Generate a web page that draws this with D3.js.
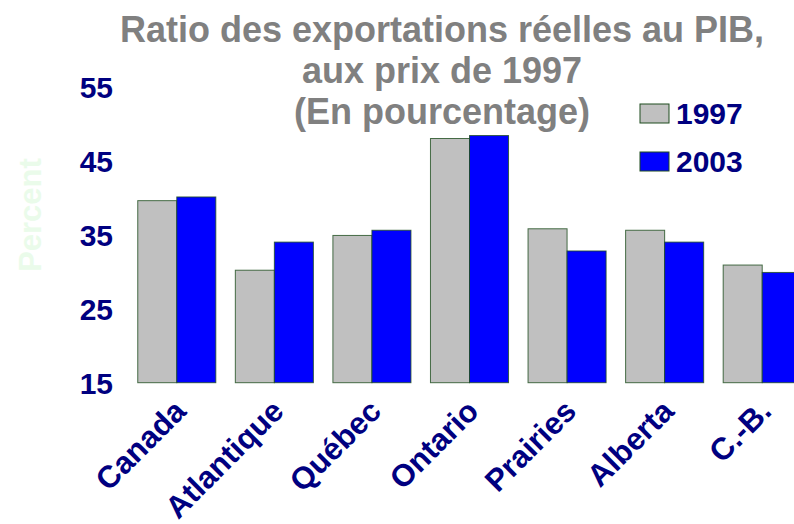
<!DOCTYPE html>
<html>
<head>
<meta charset="utf-8">
<script src="https://cdn.jsdelivr.net/npm/d3@7"></script>
<style>
  body { margin: 0; background: #fff; }
  svg { display: block; font-family: "Liberation Sans", Arial, sans-serif; font-weight: bold; }
</style>
</head>
<body>
<div id="chart"></div>
<script>
// Data
const regions = ["Canada", "Atlantique", "Québec", "Ontario", "Prairies", "Alberta", "C.-B."];
const years = ["1997", "2003"];
const values1997 = [39.6, 30.2, 34.9, 48.0, 35.8, 35.6, 30.9];
const values2003 = [40.1, 34.0, 35.6, 48.4, 32.8, 34.0, 29.9];
const yTicks = [15, 25, 35, 45, 55];
const titleLines = ["Ratio des exportations réelles au PIB,", "aux prix de 1997", "(En pourcentage)"];

const W = 794, H = 524;
const colors = { "1997": "#c0c0c0", "2003": "#0000ff" };
const navy = "#000080";

const svg = d3.select("#chart").append("svg")
    .attr("width", W)
    .attr("height", H);

// scales - plot runs past the right edge like the original
const x0 = d3.scaleBand().domain(regions).range([128, 811]).paddingInner(0.2).paddingOuter(0.1);
const x1 = d3.scaleBand().domain(years).range([0, x0.bandwidth()]);
const y = d3.scaleLinear().domain([15, 55]).range([382.7, 86.7]);

// title
svg.append("g").selectAll("text")
    .data(titleLines)
    .join("text")
    .attr("x", 442)
    .attr("y", (d, i) => 42 + i * 41)
    .attr("text-anchor", "middle")
    .attr("fill", "#808080")
    .style("font-size", "36px")
    .text(d => d);

// faint y axis label
svg.append("text")
    .attr("transform", "translate(41,215) rotate(-90)")
    .attr("text-anchor", "middle")
    .attr("fill", "#eafbea")
    .style("font-size", "31px")
    .text("Percent");

// y tick labels (no axis line)
const yAxis = svg.append("g")
    .attr("transform", "translate(113,0)")
    .call(d3.axisLeft(y).tickValues(yTicks).tickSize(0).tickPadding(0));
yAxis.select(".domain").remove();
yAxis.selectAll("text")
    .attr("fill", navy)
    .attr("dy", "0.36em")
    .style("font-size", "30px")
    .style("font-family", "Liberation Sans, Arial, sans-serif")
    .style("font-weight", "bold");

// bars
const rows = regions.map((r, i) => ({ region: r, "1997": values1997[i], "2003": values2003[i] }));
const groups = svg.append("g").selectAll("g")
    .data(rows)
    .join("g")
    .attr("transform", d => `translate(${x0(d.region)},0)`);

groups.selectAll("rect")
    .data(d => years.map(k => ({ key: k, value: d[k] })))
    .join("rect")
    .attr("x", d => x1(d.key))
    .attr("y", d => y(d.value))
    .attr("width", x1.bandwidth())
    .attr("height", d => y(15) - y(d.value))
    .attr("fill", d => colors[d.key])
    .attr("stroke", "#1e4d1e")
    .attr("stroke-opacity", 0.8)
    .attr("stroke-width", 1);

// x labels, rotated
svg.append("g").selectAll("text")
    .data(regions)
    .join("text")
    .attr("transform", d => `translate(${x0(d) + x0.bandwidth() / 2 + 11},${413}) rotate(-45)`)
    .attr("text-anchor", "end")
    .attr("fill", navy)
    .style("font-size", "31px")
    .text(d => d);

// legend
const legend = svg.append("g").attr("transform", "translate(640,104)");
years.forEach((k, i) => {
    const row = legend.append("g").attr("transform", `translate(0,${i * 48})`);
    row.append("rect")
        .attr("width", 29)
        .attr("height", 19)
        .attr("fill", colors[k])
        .attr("stroke", "#1e4d1e")
        .attr("stroke-width", 1);
    row.append("text")
        .attr("x", 36)
        .attr("y", 9.5)
        .attr("dy", "0.36em")
        .attr("fill", navy)
        .style("font-size", "30px")
        .text(k);
});
</script>
</body>
</html>
